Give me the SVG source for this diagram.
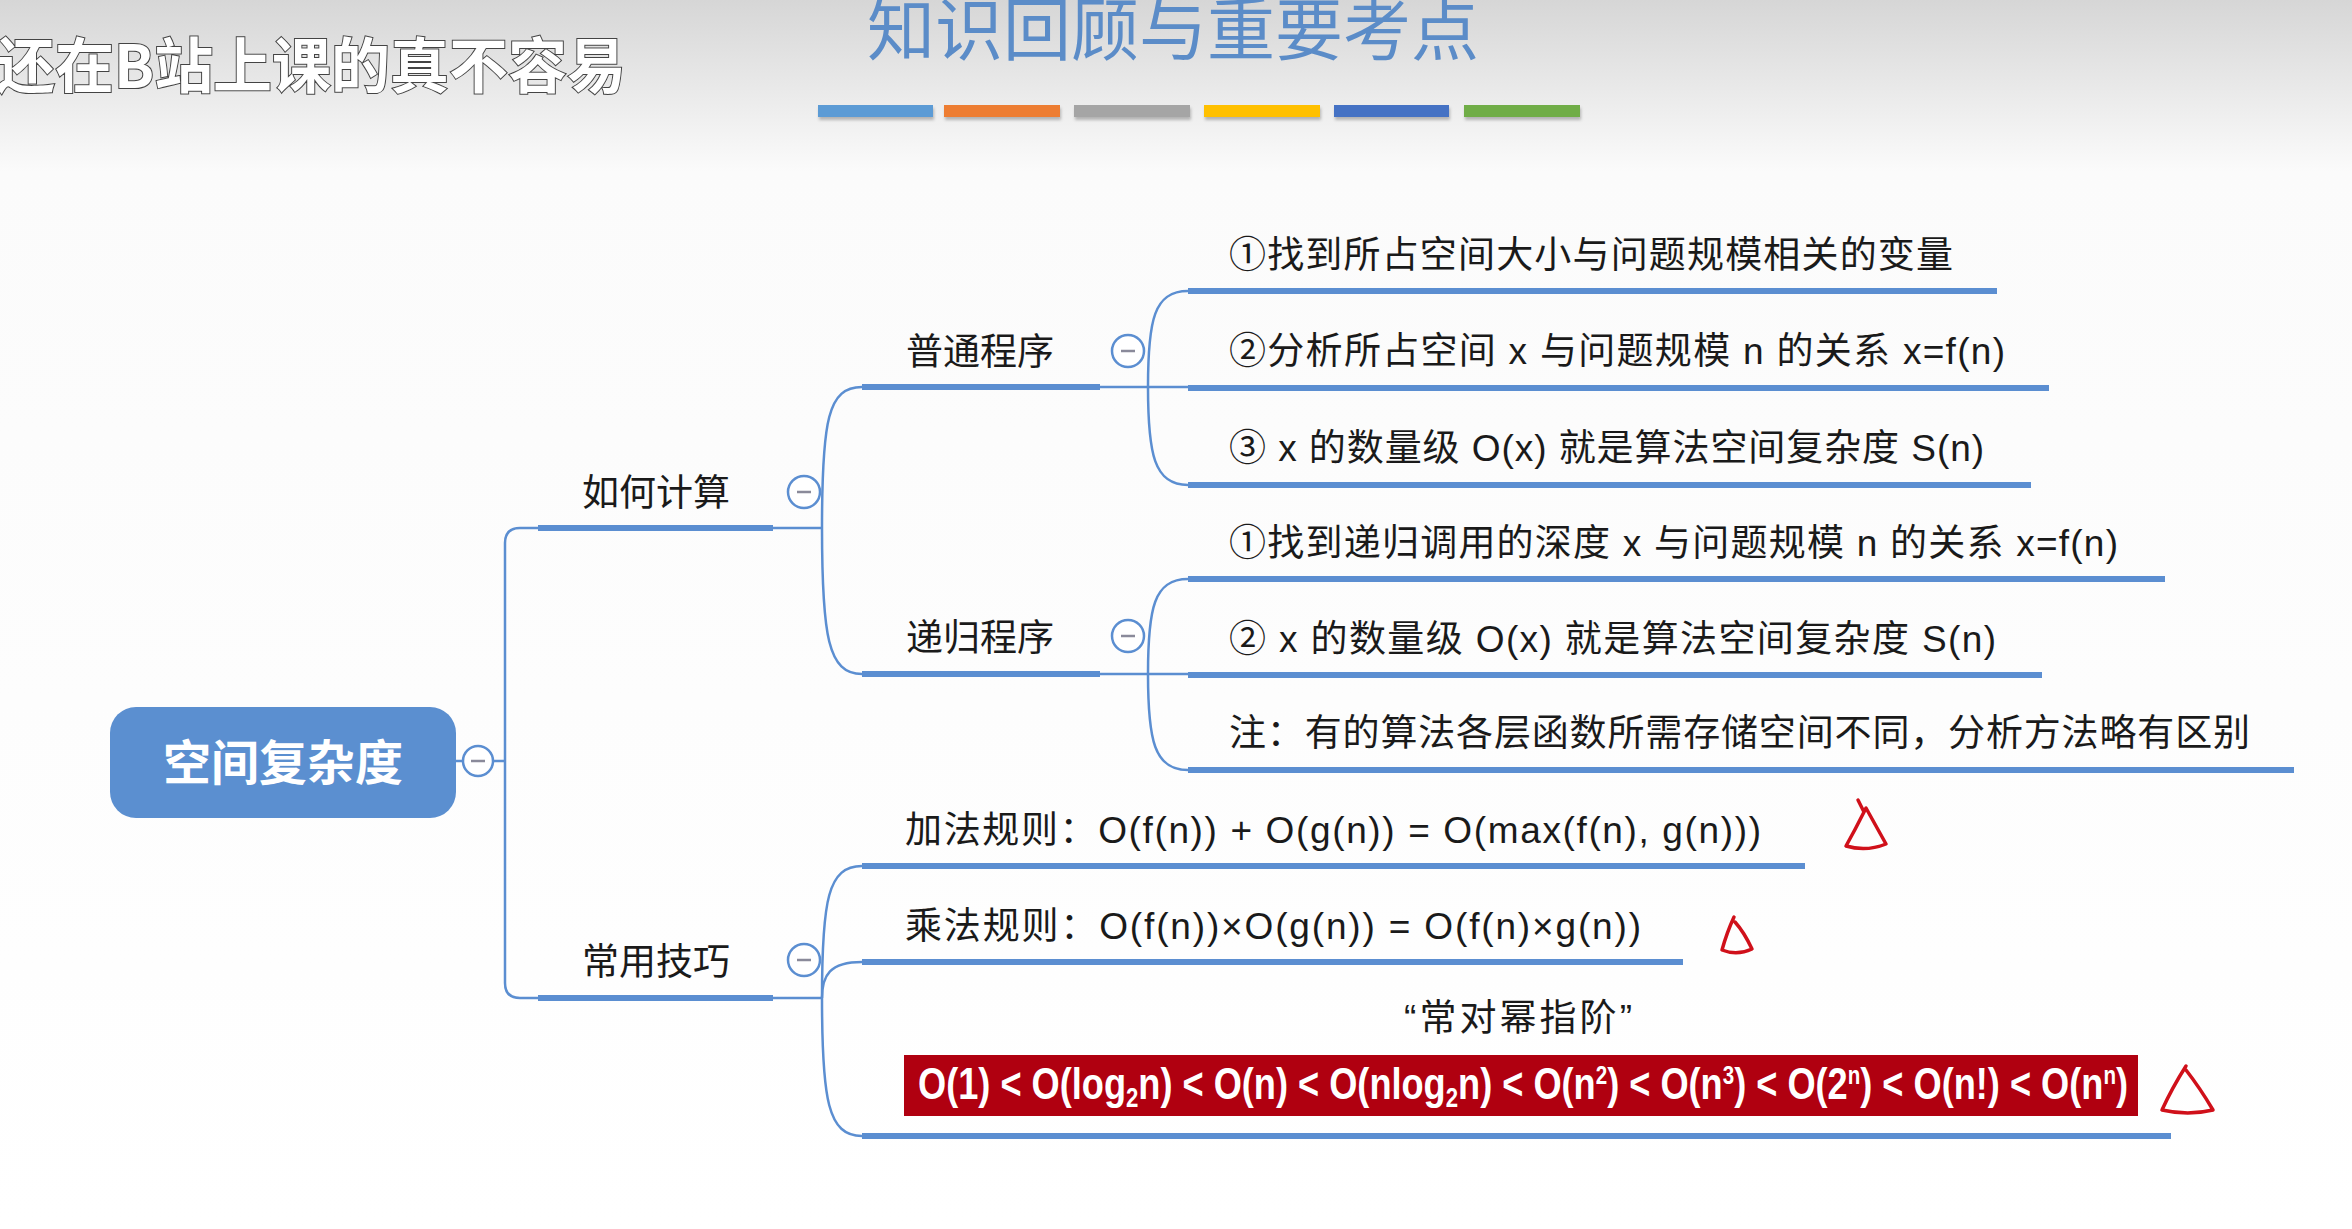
<svg xmlns="http://www.w3.org/2000/svg" width="2352" height="1229" viewBox="0 0 2352 1229">
<defs>
<linearGradient id="bg" x1="0" y1="0" x2="0" y2="1">
<stop offset="0" stop-color="#d6d6d6"/>
<stop offset="0.14" stop-color="#fbfbfb"/>
<stop offset="1" stop-color="#ffffff"/>
</linearGradient>
<filter id="sh" x="-5%" y="-50%" width="110%" height="200%">
<feDropShadow dx="1" dy="3" stdDeviation="1.5" flood-color="#000" flood-opacity="0.25"/>
</filter>
<style>
.t{font-family:"Noto Sans CJK SC","Noto Sans",sans-serif;font-size:37px;fill:#1a1a1a}
.c{font-family:"Liberation Sans","Noto Sans CJK SC",sans-serif;font-size:37px;fill:#1a1a1a}
.ul{stroke:#5b8ed1;stroke-width:6;fill:none}
.cn{stroke:#5b8ed1;stroke-width:2.5;fill:none}
.btn{fill:#ffffff;stroke:#5b8ed1;stroke-width:2.5}
.mn{stroke:#8a8a9a;stroke-width:2.5}
.tri{fill:none;stroke:#d0101a;stroke-width:3.5;stroke-linecap:round;stroke-linejoin:round}
</style>
</defs>
<rect x="0" y="0" width="2352" height="1229" fill="url(#bg)"/>

<g id="header">
<text x="867" y="55" font-family="'Noto Sans CJK SC',sans-serif" font-size="68" fill="#5b8cc8">知识回顾与重要考点</text>
<g filter="url(#sh)">
<rect x="818" y="105" width="115" height="12" fill="#5b9bd5"/>
<rect x="944" y="105" width="116" height="12" fill="#ed7d31"/>
<rect x="1074" y="105" width="116" height="12" fill="#a5a5a5"/>
<rect x="1204" y="105" width="116" height="12" fill="#ffc000"/>
<rect x="1334" y="105" width="115" height="12" fill="#4472c4"/>
<rect x="1464" y="105" width="116" height="12" fill="#70ad47"/>
</g>
<text x="-4" y="88" font-family="'Noto Sans CJK SC',sans-serif" font-size="60" font-weight="bold" fill="#ffffff" stroke="#444" stroke-width="2" paint-order="stroke" textLength="630" lengthAdjust="spacingAndGlyphs">还在B站上课的真不容易</text>
</g>

<g id="connectors">
<path class="cn" d="M456 761 H505"/>
<path class="cn" d="M538 528 H520 Q505 528 505 543 V983 Q505 998 520 998 H538"/>
<path class="cn" d="M773 528 H822"/>
<path class="cn" d="M822 528 C822 420 828 387 862 387"/>
<path class="cn" d="M822 528 C822 636 828 674 862 674"/>
<path class="cn" d="M1100 387 H1148"/>
<path class="cn" d="M1148 387 C1148 320 1154 291 1188 291"/>
<path class="cn" d="M1148 387 H1188"/>
<path class="cn" d="M1148 387 C1148 454 1154 485 1188 485"/>
<path class="cn" d="M1100 674 H1148"/>
<path class="cn" d="M1148 674 C1148 608 1154 579 1188 579"/>
<path class="cn" d="M1148 674 H1188"/>
<path class="cn" d="M1148 674 C1148 740 1154 770 1188 770"/>
<path class="cn" d="M773 998 H822"/>
<path class="cn" d="M822 998 C822 900 828 866 862 866"/>
<path class="cn" d="M822 998 C822 975 830 962 862 962"/>
<path class="cn" d="M822 998 C822 1100 828 1136 862 1136"/>
</g>

<g id="root">
<rect x="110" y="707" width="346" height="111" rx="26" fill="#5b8fd0"/>
<text x="283" y="780" text-anchor="middle" font-family="'Noto Sans CJK SC',sans-serif" font-size="48" font-weight="bold" fill="#ffffff">空间复杂度</text>
<circle class="btn" cx="478" cy="761" r="15"/><path class="mn" d="M471 761 H485"/>
</g>

<g id="n-calc">
<path class="ul" d="M538 528 H773"/>
<text class="t" x="582" y="506">如何计算</text>
<circle class="btn" cx="804" cy="492" r="16"/><path class="mn" d="M797 492 H811"/>
</g>

<g id="n-normal">
<path class="ul" d="M862 387 H1100"/>
<text class="t" x="906" y="365">普通程序</text>
<circle class="btn" cx="1128" cy="351" r="16"/><path class="mn" d="M1121 351 H1135"/>
</g>
<g id="n-normal-1"><path class="ul" d="M1188 291 H1997"/><text class="c" x="1229" y="268" textLength="724" lengthAdjust="spacing">①找到所占空间大小与问题规模相关的变量</text></g>
<g id="n-normal-2"><path class="ul" d="M1188 388 H2049"/><text class="c" x="1229" y="364" textLength="776" lengthAdjust="spacing">②分析所占空间 x 与问题规模 n 的关系 x=f(n)</text></g>
<g id="n-normal-3"><path class="ul" d="M1188 485 H2031"/><text class="c" x="1229" y="461" textLength="755" lengthAdjust="spacing">③ x 的数量级 O(x) 就是算法空间复杂度 S(n)</text></g>

<g id="n-recur">
<path class="ul" d="M862 674 H1100"/>
<text class="t" x="906" y="651">递归程序</text>
<circle class="btn" cx="1128" cy="636" r="16"/><path class="mn" d="M1121 636 H1135"/>
</g>
<g id="n-recur-1"><path class="ul" d="M1188 579 H2165"/><text class="c" x="1229" y="556" textLength="889" lengthAdjust="spacing">①找到递归调用的深度 x 与问题规模 n 的关系 x=f(n)</text></g>
<g id="n-recur-2"><path class="ul" d="M1188 675 H2042"/><text class="c" x="1229" y="652" textLength="767" lengthAdjust="spacing">②  x 的数量级 O(x) 就是算法空间复杂度 S(n)</text></g>
<g id="n-recur-3"><path class="ul" d="M1188 770 H2294"/><text class="c" x="1229" y="746" textLength="1021" lengthAdjust="spacing">注：有的算法各层函数所需存储空间不同，分析方法略有区别</text></g>

<g id="n-tips">
<path class="ul" d="M538 998 H773"/>
<text class="t" x="582" y="975">常用技巧</text>
<circle class="btn" cx="804" cy="960" r="16"/><path class="mn" d="M797 960 H811"/>
</g>
<g id="n-add"><path class="ul" d="M862 866 H1805"/><text class="c" x="905" y="843" textLength="856" lengthAdjust="spacing">加法规则：O(f(n)) + O(g(n)) = O(max(f(n), g(n)))</text></g>
<g id="n-mul"><path class="ul" d="M862 962 H1683"/><text class="c" x="905" y="939" textLength="736" lengthAdjust="spacing">乘法规则：O(f(n))×O(g(n)) = O(f(n)×g(n))</text></g>
<g id="n-order">
<path class="ul" d="M862 1136 H2171"/>
<text class="c" x="1404" y="1031" textLength="228" lengthAdjust="spacing">“常对幂指阶”</text>
<rect x="904" y="1055" width="1234" height="61" fill="#b00010"/>
<text x="918" y="1099" font-family="'Liberation Sans Narrow','Liberation Sans',sans-serif" font-size="44" font-weight="bold" fill="#ffffff" textLength="1210" lengthAdjust="spacingAndGlyphs">O(1) &lt; O(log<tspan dy="8" font-size="27">2</tspan><tspan dy="-8">n) &lt; O(n) &lt; O(nlog</tspan><tspan dy="8" font-size="27">2</tspan><tspan dy="-8">n) &lt; O(n</tspan><tspan dy="-15" font-size="25">2</tspan><tspan dy="15">) &lt; O(n</tspan><tspan dy="-15" font-size="25">3</tspan><tspan dy="15">) &lt; O(2</tspan><tspan dy="-15" font-size="25">n</tspan><tspan dy="15">) &lt; O(n!) &lt; O(n</tspan><tspan dy="-15" font-size="25">n</tspan><tspan dy="15">)</tspan></text>
</g>

<g id="marks">
<path class="tri" d="M1858 800 L1864 812 Q1855 830 1846 846 Q1866 852 1886 844 Q1876 826 1866 808 L1864 812"/>
<path class="tri" d="M1734 917 Q1727 932 1722 950 Q1737 956 1752 949 Q1744 932 1735 922"/>
<path class="tri" d="M2186 1066 Q2172 1088 2162 1110 Q2188 1116 2213 1110 Q2200 1088 2186 1070"/>
</g>
</svg>
